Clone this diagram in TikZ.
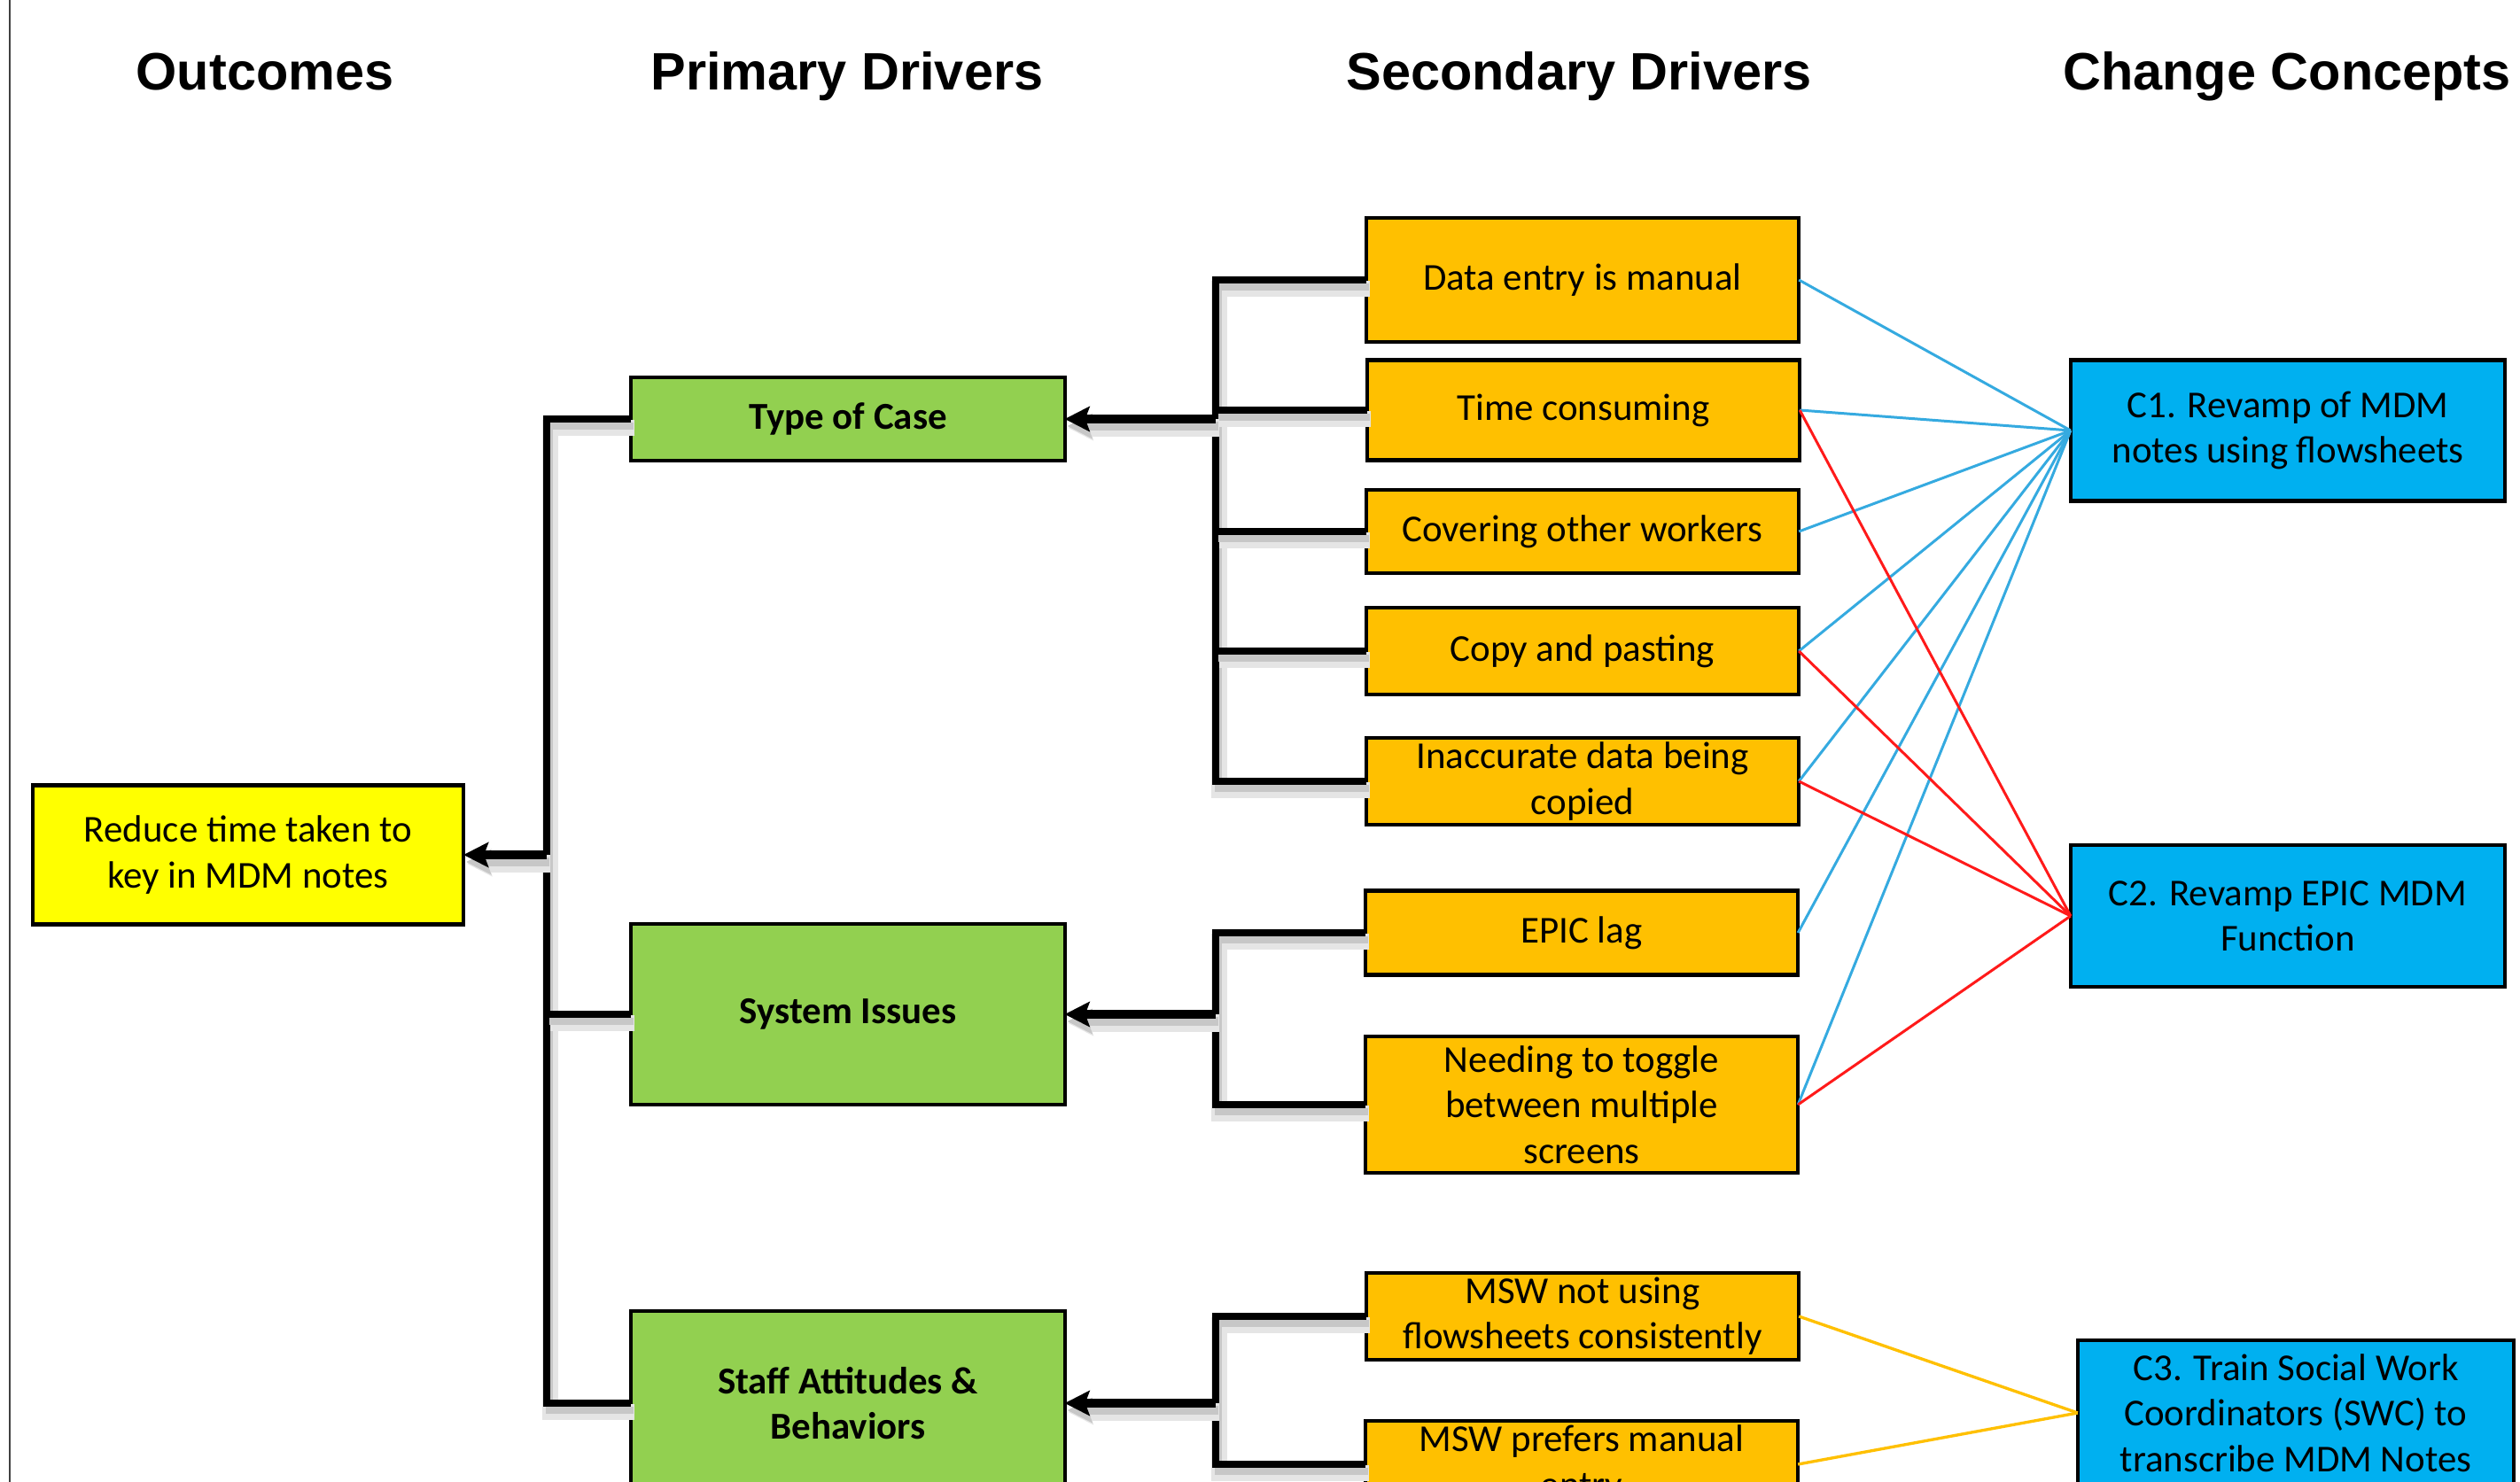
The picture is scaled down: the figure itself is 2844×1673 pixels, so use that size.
\documentclass[tikz,border=0pt]{standalone}
\usepackage{fontspec}
\setmainfont{Carlito}
\newfontfamily\hdfont{Liberation Sans}
\usetikzlibrary{arrows.meta}
\definecolor{orangebox}{HTML}{FFC000}
\definecolor{greenbox}{HTML}{92D050}
\definecolor{bluebox}{HTML}{00B0F0}
\definecolor{yellowbox}{HTML}{FFFF00}
\definecolor{blueline}{HTML}{35AAE0}
\definecolor{redline}{HTML}{FF1A1A}
\definecolor{goldline}{HTML}{FFC000}
\newcommand\bxfont{\fontsize{12.2pt}{14.6pt}\selectfont}
\newcommand\hdrfont{\hdfont\bfseries\fontsize{16.9pt}{20pt}\selectfont}
\begin{document}
\begin{tikzpicture}[x=0.01cm,y=-0.01cm,
  box/.style={draw=black, line width=1.2pt, inner sep=0pt, outer sep=0pt, align=center, font=\bxfont, text=black},
  obox/.style={box, fill=yellowbox, minimum width=4.86cm},
  pbox/.style={box, fill=greenbox, minimum width=4.89cm, font=\bxfont\bfseries},
  sbox/.style={box, fill=orangebox, minimum width=4.88cm},
  cbox/.style={box, fill=bluebox, minimum width=4.90cm},
  hdr/.style={anchor=base, font=\hdrfont, inner sep=0pt},
  shadowed/.style={
    preaction={draw=black!10, line width=#1+3pt, transform canvas={shift={(4,10)}}},
    preaction={draw=black!22, line width=#1, transform canvas={shift={(3,8)}}}},
  conn/.style={draw=black, line width=2.1pt, shadowed=2.1pt},
  arr/.style={draw=black, line width=2.8pt, shadowed=2.8pt, -{Stealth[length=0.28cm, width=0.28cm, inset=0.05cm]}},
  bl/.style={draw=blueline, line width=0.85pt},
  rd/.style={draw=redline, line width=0.85pt},
  gd/.style={draw=goldline, line width=0.95pt}
]
\useasboundingbox (0,0) rectangle (2844,1673);
\clip (0,0) rectangle (2844,1673);
\fill[white] (0,0) rectangle (2844,1673);
\draw[black!75, line width=0.6pt] (11,0) -- (11,1673);

% headers
\node[hdr] (h1) at (299,102) {Outcomes};
\node[hdr] (h2) at (956,102) {Primary Drivers};
\node[hdr] (h3) at (1782,102) {Secondary Drivers};
\node[hdr] (h4) at (2581,102) {Change Concepts};

% trunk and bracket coordinates
\coordinate (tk) at (617,0);
\coordinate (bk) at (1372,0);

% outcome
\node[obox, minimum height=1.57cm] (out) at (280,965) {Reduce time taken to\\key in MDM notes};

% primary drivers
\node[pbox, minimum height=0.94cm] (p1) at (957,473) {Type of Case};
\node[pbox, minimum height=2.04cm] (p2) at (957,1145) {System Issues};
\node[pbox, minimum height=2.08cm] (p3) at (957,1584) {Staff Attitudes \&\\Behaviors};

% secondary drivers
\node[sbox, minimum height=1.40cm] (s1) at (1786,316) {Data entry is manual};
\node[sbox, minimum height=1.13cm] (s2) at (1787,463) {Time consuming};
\node[sbox, minimum height=0.94cm] (s3) at (1786,600) {Covering other workers};
\node[sbox, minimum height=0.98cm] (s4) at (1786,735) {Copy and pasting};
\node[sbox, minimum height=0.98cm] (s5) at (1786,882) {Inaccurate data being\\copied};
\node[sbox, minimum height=0.95cm] (s6) at (1785,1053) {EPIC lag};
\node[sbox, minimum height=1.54cm] (s7) at (1785,1247) {Needing to toggle\\between multiple\\screens};
\node[sbox, minimum height=0.98cm] (s8) at (1786,1486) {MSW not using\\flowsheets consistently};
\node[sbox, minimum height=0.98cm] (s9) at (1785,1653) {MSW prefers manual\\entry};

% change concepts
\node[cbox, minimum height=1.59cm] (c1) at (2582,486) {C1. Revamp of MDM\\notes using flowsheets};
\node[cbox, minimum height=1.60cm] (c2) at (2582,1034) {C2. Revamp EPIC MDM\\Function};
\node[cbox, minimum height=1.64cm, minimum width=4.92cm] (c3) at (2591,1595) {C3. Train Social Work\\Coordinators (SWC) to\\transcribe MDM Notes};

% trunk
\draw[conn] (p1.west) -| (tk |- p3.west) -- (p3.west);
\draw[conn] (p2.west) -- (tk |- p2.west);
\draw[arr] (tk |- out.east) -- (out.east);

% secondary brackets
\draw[conn] (s1.west) -| (bk |- s5.west) -- (s5.west);
\foreach \n in {s2,s3,s4} \draw[conn] (\n.west) -- (bk |- \n.west);
\draw[arr] (bk |- p1.east) -- (p1.east);
\draw[conn] (s6.west) -| (bk |- s7.west) -- (s7.west);
\draw[arr] (bk |- p2.east) -- (p2.east);
\draw[conn] (s8.west) -| (bk |- s9.west) -- (s9.west);
\draw[arr] (bk |- p3.east) -- (p3.east);

% change concept links
\foreach \n in {s1,s2,s3,s4,s5,s6,s7} \draw[bl] (\n.east) -- (c1.west);
\foreach \n in {s2,s4,s5,s7} \draw[rd] (\n.east) -- (c2.west);
\foreach \n in {s8,s9} \draw[gd] (\n.east) -- (c3.west);
\end{tikzpicture}
\end{document}
